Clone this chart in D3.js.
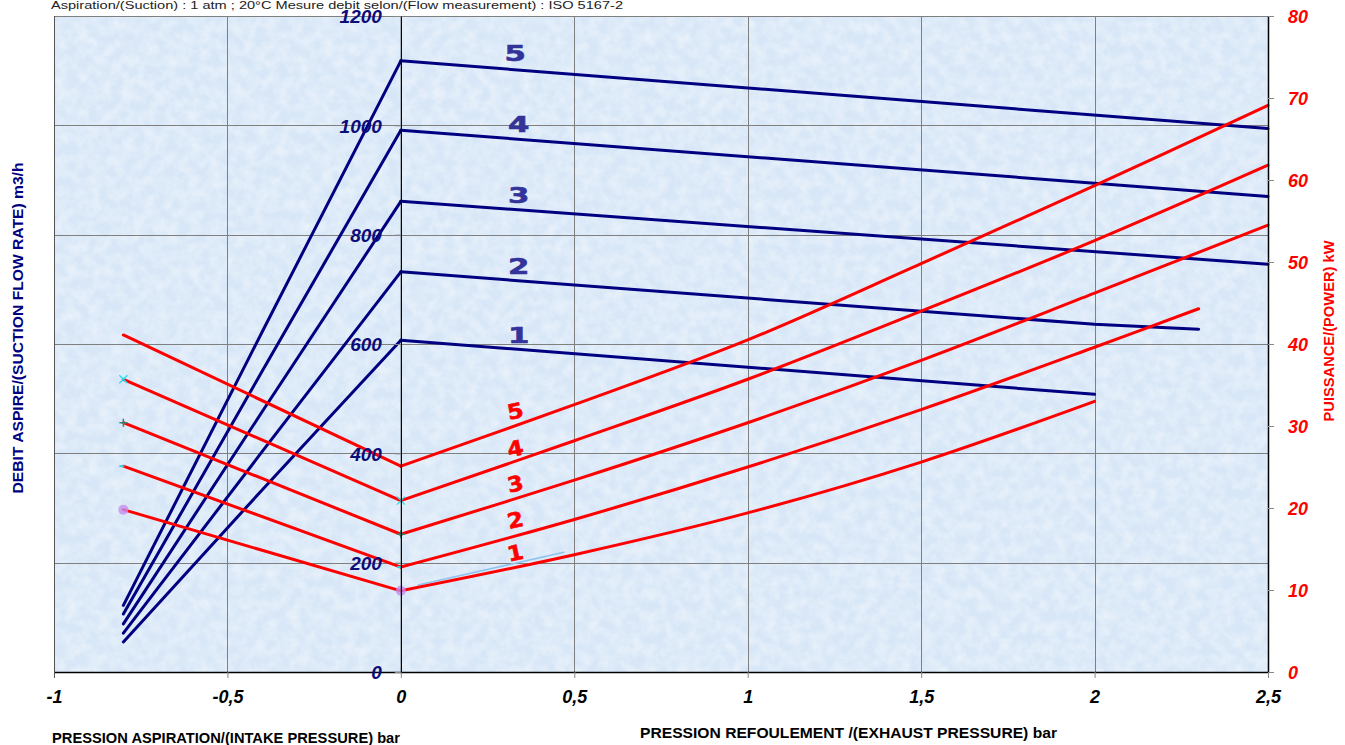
<!DOCTYPE html>
<html><head><meta charset="utf-8">
<script src="https://cdn.jsdelivr.net/npm/d3@7/dist/d3.min.js"></script>
<style>body{margin:0;background:#fff} svg{display:block}</style>
</head><body>
<svg id="c" width="1345" height="745"></svg>
<script>
// ---------- data ----------
const xTicks = [-1, -0.5, 0, 0.5, 1, 1.5, 2, 2.5];
const xTickLabels = ["-1", "-0,5", "0", "0,5", "1", "1,5", "2", "2,5"];
const flowTicks = [0, 200, 400, 600, 800, 1000, 1200];
const powerTicks = [0, 10, 20, 30, 40, 50, 60, 70, 80];
const models = ["1", "2", "3", "4", "5"];

// flow (m3/h) on intake side, pressure points
const intakeFlowX = [-0.8, -0.4, 0];
const flowIn1 = [55, 333, 607];
const flowIn2 = [71, 403, 732];
const flowIn3 = [88, 476, 861];
const flowIn4 = [106, 550, 991];
const flowIn5 = [122, 622, 1118];

// flow on exhaust side
const flowEx1X = [0, 2];        const flowEx1 = [607, 508];
const flowEx2X = [0, 2, 2.3];   const flowEx2 = [732, 636, 627];
const flowEx3X = [0, 2.5];      const flowEx3 = [861, 746];
const flowEx4X = [0, 2.5];      const flowEx4 = [991, 870];
const flowEx5X = [0, 2.5];      const flowEx5 = [1118, 994];

// power (kW) on intake side
const intakePowX = [-0.8, 0];
const powIn1 = [19.8, 9.9];
const powIn2 = [25.1, 12.8];
const powIn3 = [30.4, 16.8];
const powIn4 = [35.7, 20.9];
const powIn5 = [41.1, 25.1];

// power on exhaust side
const powEx1X = [0, 0.5, 1, 1.5, 2];           const powEx1 = [9.9, 14.3, 19.4, 25.6, 33.0];
const powEx2X = [0, 0.5, 1, 1.5, 2, 2.3];      const powEx2 = [12.8, 18.6, 25.0, 32.0, 39.6, 44.3];
const powEx3X = [0, 0.5, 1, 1.5, 2, 2.5];      const powEx3 = [16.8, 23.4, 30.4, 38.0, 46.2, 54.5];
const powEx4X = [0, 0.5, 1, 1.5, 2, 2.5];      const powEx4 = [20.9, 28.2, 35.7, 44.0, 52.6, 61.8];
const powEx5X = [0, 0.5, 1, 1.5, 2, 2.5];      const powEx5 = [25.1, 32.6, 40.5, 49.8, 59.3, 69.1];

// faint light-blue trace
const faintX = [0.05, 0.47];
const faintPow = [10.6, 14.6];

// blue / red curve label anchors (pressure, value)
const flowLabelX = [0.34, 0.34, 0.34, 0.34, 0.33];
const flowLabelY = [617, 742, 872, 1002, 1132];
const powLabelX = [0.33, 0.33, 0.33, 0.33, 0.33];
const powLabelY = [14.5, 18.5, 22.9, 27.2, 31.8];

// ---------- drawing ----------
const svg = d3.select("#c");
const L = 54, R = 1268, T = 16, B = 672;
const x = d3.scaleLinear().domain([-1, 2.5]).range([L, R]);
const yF = d3.scaleLinear().domain([0, 1200]).range([B, T]);
const yP = d3.scaleLinear().domain([0, 80]).range([B, T]);

const defs = svg.append("defs");
const f = defs.append("filter").attr("id", "tex").attr("x", 0).attr("y", 0).attr("width", 1).attr("height", 1);
f.append("feTurbulence").attr("type", "fractalNoise").attr("baseFrequency", "0.09").attr("numOctaves", 3).attr("seed", 7);
f.append("feColorMatrix").attr("type", "matrix")
  .attr("values", "0 0 0 0 1  0 0 0 0 1  0 0 0 0 1  1.8 0 0 0 -0.6");

svg.append("rect").attr("x", L).attr("y", T).attr("width", R - L).attr("height", B - T).attr("fill", "#d8e7f7");
svg.append("rect").attr("x", L).attr("y", T).attr("width", R - L).attr("height", B - T)
  .attr("filter", "url(#tex)").attr("opacity", 0.45);

// grid
const grid = svg.append("g").attr("stroke", "#7f7f7f").attr("stroke-width", 1).attr("shape-rendering", "crispEdges");
grid.selectAll(".gv").data(xTicks).join("line")
  .attr("x1", d => Math.round(x(d)) + 0.5).attr("x2", d => Math.round(x(d)) + 0.5).attr("y1", T).attr("y2", B);
grid.selectAll(".gh").data(flowTicks).join("line")
  .attr("y1", d => Math.round(yF(d)) + 0.5).attr("y2", d => Math.round(yF(d)) + 0.5).attr("x1", L).attr("x2", R);

// lines
const lineF = d3.line().x(d => x(d[0])).y(d => yF(d[1]));
const lineP = d3.line().x(d => x(d[0])).y(d => yP(d[1]));
const smoothF = d3.line().x(d => x(d[0])).y(d => yF(d[1])).curve(d3.curveMonotoneX);
const smoothP = d3.line().x(d => x(d[0])).y(d => yP(d[1])).curve(d3.curveCatmullRom.alpha(0.5));
const zip = (a, b) => a.map((v, i) => [v, b[i]]);

const flowIn = [flowIn1, flowIn2, flowIn3, flowIn4, flowIn5];
const flowExX = [flowEx1X, flowEx2X, flowEx3X, flowEx4X, flowEx5X];
const flowEx = [flowEx1, flowEx2, flowEx3, flowEx4, flowEx5];
const powIn = [powIn1, powIn2, powIn3, powIn4, powIn5];
const powExX = [powEx1X, powEx2X, powEx3X, powEx4X, powEx5X];
const powEx = [powEx1, powEx2, powEx3, powEx4, powEx5];

const gl = svg.append("g").attr("fill", "none").attr("stroke-linejoin", "round").attr("stroke-linecap", "round");
gl.append("path").attr("d", smoothP(zip(faintX, faintPow))).attr("stroke", "#8fc3f0").attr("stroke-width", 1.6);

models.forEach((m, i) => {
  gl.append("path").attr("d", smoothF(zip(intakeFlowX, flowIn[i]))).attr("stroke", "#000080").attr("stroke-width", 3);
  gl.append("path").attr("d", lineF(zip(flowExX[i], flowEx[i]))).attr("stroke", "#000080").attr("stroke-width", 3);
});
models.forEach((m, i) => {
  gl.append("path").attr("d", lineP(zip(intakePowX, powIn[i]))).attr("stroke", "#ff0000").attr("stroke-width", 3);
  gl.append("path").attr("d", smoothP(zip(powExX[i], powEx[i]))).attr("stroke", "#ff0000").attr("stroke-width", 3);
});

// markers (series 1-4 at both intake ends)
const mk = svg.append("g");
[-0.8, 0].forEach((px, k) => {
  const pIdx = k === 0 ? 0 : intakePowX.length - 1;
  mk.append("circle").attr("cx", x(px)).attr("cy", yP(powIn1[pIdx])).attr("r", 5).attr("fill", "#c58ff0").attr("opacity", 0.8);
  mk.append("line").attr("x1", x(px) - 4).attr("x2", x(px) + 1).attr("y1", yP(powIn2[pIdx])).attr("y2", yP(powIn2[pIdx]))
    .attr("stroke", "#33ccdd").attr("stroke-width", 2);
  const cx3 = x(px), cy3 = yP(powIn3[pIdx]);
  mk.append("path").attr("d", `M${cx3 - 4},${cy3}H${cx3 + 4}M${cx3},${cy3 - 4}V${cy3 + 4}`).attr("stroke", "#2a8a7a").attr("stroke-width", 1.5);
  const cx4 = x(px), cy4 = yP(powIn4[pIdx]);
  mk.append("path").attr("d", `M${cx4 - 4},${cy4 - 4}L${cx4 + 4},${cy4 + 4}M${cx4 - 4},${cy4 + 4}L${cx4 + 4},${cy4 - 4}`).attr("stroke", "#22ddee").attr("stroke-width", 1.3);
});

// axes
const ax = svg.append("g").attr("font-family", "Liberation Sans, Arial, sans-serif");
const xAxis = ax.append("g").attr("transform", `translate(0,${B})`)
  .call(d3.axisBottom(x).tickValues(xTicks).tickFormat((d, i) => xTickLabels[i]).tickSize(6).tickSizeOuter(0));
xAxis.select(".domain").attr("stroke", "#000").attr("stroke-width", 1.5);
xAxis.selectAll(".tick line").attr("stroke", "#888");
xAxis.selectAll(".tick text").attr("y", 31).attr("dy", 0).attr("fill", "#000")
  .attr("font-size", 18).attr("font-weight", "bold").attr("font-style", "italic");

const yAxisL = ax.append("g").attr("transform", `translate(${x(0)},0)`)
  .call(d3.axisLeft(yF).tickValues(flowTicks).tickFormat(d3.format("d")).tickSize(6).tickPadding(13).tickSizeOuter(0));
yAxisL.select(".domain").attr("stroke", "#000").attr("stroke-width", 1.2);
yAxisL.selectAll(".tick line").attr("stroke", "#888");
yAxisL.selectAll(".tick text").attr("fill", "#0c0c78").attr("font-size", 19)
  .attr("font-weight", "bold").attr("font-style", "italic").attr("dy", "0.36em");

const yAxisR = ax.append("g").attr("transform", `translate(${R},0)`)
  .call(d3.axisRight(yP).tickValues(powerTicks).tickFormat(d3.format("d")).tickSize(6).tickPadding(14).tickSizeOuter(0));
yAxisR.select(".domain").attr("stroke", "#000").attr("stroke-width", 1.5);
yAxisR.selectAll(".tick line").attr("stroke", "#888");
yAxisR.selectAll(".tick text").attr("fill", "#ff0000").attr("font-size", 18)
  .attr("font-weight", "bold").attr("font-style", "italic").attr("dy", "0.36em");

svg.append("line").attr("x1", L + 0.5).attr("x2", L + 0.5).attr("y1", T).attr("y2", B + 6).attr("stroke", "#555");

// curve labels
const lab = svg.append("g").attr("font-family", "DejaVu Sans, Arial Black, sans-serif").attr("font-weight", "bold")
  .attr("text-anchor", "middle").attr("dominant-baseline", "central");
models.forEach((m, i) => {
  lab.append("text").attr("transform", `translate(${x(flowLabelX[i])},${yF(flowLabelY[i])}) scale(1.4,1)`)
    .attr("font-size", 22).attr("fill", "#333399").attr("stroke", "#333399").attr("stroke-width", 0.6).text(m);
  lab.append("text").attr("transform", `translate(${x(powLabelX[i])},${yP(powLabelY[i])}) rotate(-12) scale(1.1,1)`)
    .attr("font-size", 21).attr("fill", "#ff0000").attr("stroke", "#ff0000").attr("stroke-width", 0.6).text(m);
});

// titles
const tt = svg.append("g").attr("font-family", "Liberation Sans Narrow, Liberation Sans, Arial, sans-serif");
tt.append("text").attr("x", 51).attr("y", 9).attr("font-size", 10.5).attr("fill", "#222")
  .attr("textLength", 572).attr("lengthAdjust", "spacingAndGlyphs")
  .text("Aspiration/(Suction) : 1 atm ; 20°C  Mesure debit selon/(Flow measurement) : ISO 5167-2");
tt.append("text").attr("transform", "translate(23,328) rotate(-90)").attr("text-anchor", "middle")
  .attr("font-size", 15).attr("font-weight", "bold").attr("fill", "#000080")
  .attr("textLength", 331).attr("lengthAdjust", "spacingAndGlyphs")
  .text("DEBIT ASPIRE/(SUCTION FLOW RATE) m3/h");
tt.append("text").attr("transform", "translate(1334,331) rotate(-90)").attr("text-anchor", "middle")
  .attr("font-size", 15).attr("font-weight", "bold").attr("fill", "#ff0000")
  .attr("textLength", 181).attr("lengthAdjust", "spacingAndGlyphs")
  .text("PUISSANCE/(POWER) kW");
tt.append("text").attr("x", 52).attr("y", 743).attr("font-size", 15).attr("font-weight", "bold").attr("fill", "#000")
  .attr("textLength", 348).attr("lengthAdjust", "spacingAndGlyphs")
  .text("PRESSION ASPIRATION/(INTAKE PRESSURE) bar");
tt.append("text").attr("x", 640).attr("y", 738).attr("font-size", 15).attr("font-weight", "bold").attr("fill", "#000")
  .attr("textLength", 417).attr("lengthAdjust", "spacingAndGlyphs")
  .text("PRESSION REFOULEMENT /(EXHAUST PRESSURE) bar");
</script>
</body></html>
